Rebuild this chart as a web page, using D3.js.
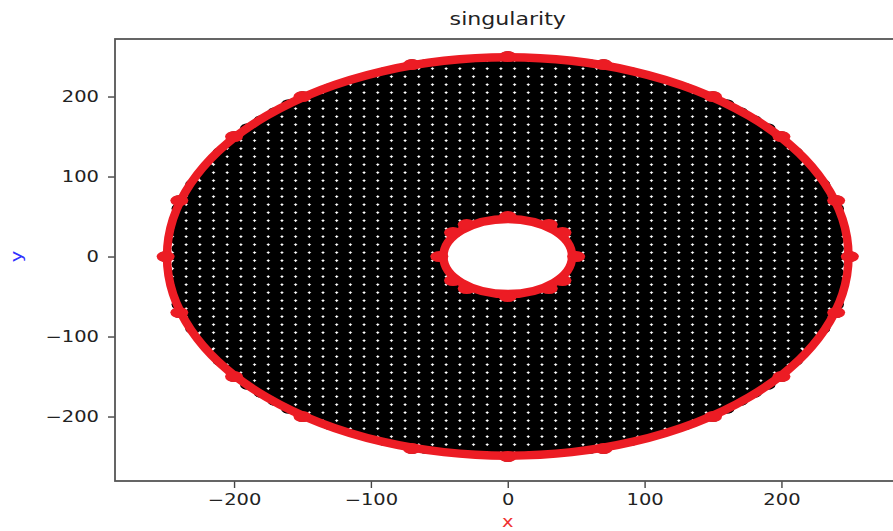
<!DOCTYPE html>
<html><head><meta charset="utf-8">
<script src="https://cdn.jsdelivr.net/npm/d3@7"></script>
<style>body{margin:0;background:#fff}svg{display:block}text{font-family:"DejaVu Sans",sans-serif}</style>
</head><body><svg id="c" width="893" height="531"></svg>
<script>
// ---- data ----
const titleText = "singularity";
const xLabel = "x", yLabel = "y";
const xTicks = [-200, -100, 0, 100, 200];
const yTicks = [-200, -100, 0, 100, 200];
const xDomain = [-287, 287];
const yDomain = [-280.6, 271.9];
// mesh coordinates (step 10)
const meshX = [-250,-240,-230,-220,-210,-200,-190,-180,-170,-160,-150,-140,-130,-120,-110,-100,-90,-80,-70,-60,-50,-40,-30,-20,-10,0,10,20,30,40,50,60,70,80,90,100,110,120,130,140,150,160,170,180,190,200,210,220,230,240,250];
const meshY = meshX.slice();
const innerRadius = 50, outerRadius = 250;
// boundary rings drawn in red
const ringRadii = [249, 47];
// mesh nodes lying exactly on the boundary
const boundaryX = [250,240,200,150,70,0,-70,-150,-200,-240,-250,-240,-200,-150,-70,0,70,150,200,240, 50,40,30,0,-30,-40,-50,-40,-30,0,30,40];
const boundaryY = [0,70,150,200,240,250,240,200,150,70,0,-70,-150,-200,-240,-250,-240,-200,-150,-70, 0,30,40,50,40,30,0,-30,-40,-50,-40,-30];

const svg = d3.select("#c");
const L = 115, R = 900.5, T = 39, B = 481;
const xs = d3.scaleLinear().domain(xDomain).range([L, R]);
const ys = d3.scaleLinear().domain(yDomain).range([B, T]);
const SX = 1.3;

svg.append("clipPath").attr("id","clip").append("rect")
  .attr("x",L).attr("y",T).attr("width",R-L).attr("height",B-T);
const plot = svg.append("g").attr("clip-path","url(#clip)");

const nodes = [];
meshY.forEach(y => meshX.forEach(x => {
  const r2 = x*x + y*y;
  if (r2 >= innerRadius*innerRadius && r2 <= outerRadius*outerRadius) nodes.push([x,y]);
}));
plot.append("g").selectAll("ellipse").data(nodes).join("ellipse")
  .attr("cx", d => xs(d[0])).attr("cy", d => ys(d[1]))
  .attr("rx", 7.8).attr("ry", 5.3).attr("fill", "#000");

const red = "#ec1c24";
plot.append("g").selectAll("ellipse").data(ringRadii).join("ellipse")
  .attr("cx", xs(0)).attr("cy", ys(0))
  .attr("rx", d => xs(d) - xs(0)).attr("ry", d => ys(0) - ys(d))
  .attr("fill","none").attr("stroke", red).attr("stroke-width", 8.5);

plot.append("g").selectAll("ellipse").data(boundaryX.map((x,i)=>[x,boundaryY[i]])).join("ellipse")
  .attr("cx", d => xs(d[0])).attr("cy", d => ys(d[1]))
  .attr("rx", 9).attr("ry", 5.5).attr("fill", red);

// axes
const gx = svg.append("g").attr("transform",`translate(0,${B})`)
  .call(d3.axisBottom(xs).tickValues(xTicks).tickSize(7).tickPadding(6).tickFormat(d=>d3.format("")(d).replace("-","\u2212")));
const gy = svg.append("g").attr("transform",`translate(${L},0)`)
  .call(d3.axisLeft(ys).tickValues(yTicks).tickSize(7).tickPadding(9).tickFormat(d=>d3.format("")(d).replace("-","\u2212")));
[gx, gy].forEach(g => {
  g.select(".domain").remove();
  g.selectAll(".tick line").attr("stroke","#444").attr("stroke-width",1.4);
  g.selectAll(".tick text").attr("fill","#222").style("font-size","15px").style("font-family","DejaVu Sans");
});
gx.selectAll(".tick text").attr("transform",`scale(${SX},1)`);
gy.selectAll(".tick text").attr("x", -16/SX).attr("transform",`scale(${SX},1)`);

svg.append("rect").attr("x",L).attr("y",T).attr("width",R-L).attr("height",B-T)
  .attr("fill","none").attr("stroke","#555").attr("stroke-width",1.8);

svg.append("text").attr("transform",`translate(${xs(0)},25) scale(${SX},1)`)
  .attr("text-anchor","middle").style("font-size","17px").attr("fill","#222").text(titleText);
svg.append("text").attr("transform",`translate(${xs(0)},527) scale(${SX},1)`)
  .attr("text-anchor","middle").style("font-size","15px").attr("fill","#f03030").text(xLabel);
svg.append("text").attr("transform",`translate(22,${ys(0)}) rotate(-90) scale(${SX},1)`)
  .attr("text-anchor","middle").style("font-size","15px").attr("fill","#3030ff").text(yLabel);
</script></body></html>
